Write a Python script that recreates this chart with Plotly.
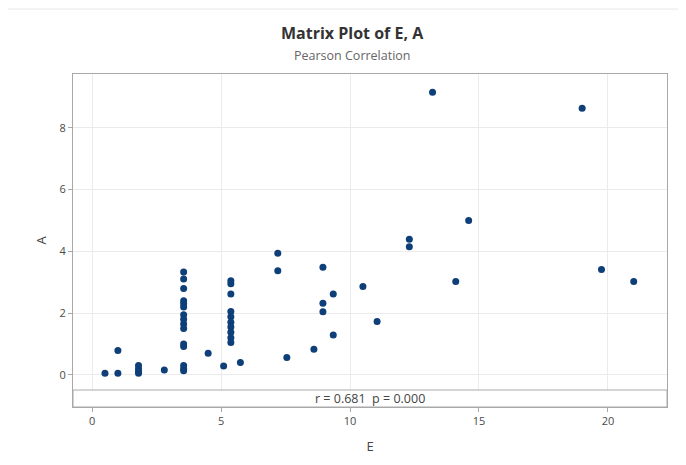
import plotly.graph_objects as go

# Data
E = [0.5, 1.0, 1.0,
     1.8, 1.8, 1.8, 1.8,
     2.8,
     3.55, 3.55, 3.55, 3.55, 3.55, 3.55, 3.55, 3.55, 3.55, 3.55, 3.55, 3.55, 3.55, 3.55, 3.55,
     4.5, 5.1,
     5.38, 5.38, 5.38, 5.38, 5.38, 5.38, 5.38, 5.38, 5.38, 5.38,
     5.75, 7.2, 7.2, 7.55, 8.6, 8.95, 8.95, 8.95, 9.35, 9.35,
     10.5, 11.05, 12.3, 12.3, 13.2, 14.1, 14.6, 19.0, 19.75, 21.0]
A = [0.05, 0.79, 0.05,
     0.05, 0.12, 0.2, 0.3,
     0.16,
     3.33, 3.1, 2.8, 2.4, 2.3, 2.2, 1.95, 1.8, 1.65, 1.5, 1.0, 0.92, 0.3, 0.2, 0.13,
     0.70, 0.29,
     3.05, 2.95, 2.62, 2.05, 1.88, 1.7, 1.55, 1.38, 1.2, 1.05,
     0.40, 3.94, 3.37, 0.56, 0.83, 3.48, 2.32, 2.04, 2.62, 1.29,
     2.86, 1.73, 4.39, 4.15, 9.15, 3.02, 5.0, 8.63, 3.41, 3.02]

x_ticks = [0, 5, 10, 15, 20]
y_ticks = [0, 2, 4, 6, 8]
stat_text = "r = 0.681  p = 0.000"

FONT = "Open Sans"
GRID = "#ebebeb"
FRAME = "#a8a8a8"

fig = go.Figure()
fig.add_trace(go.Scatter(
    x=E, y=A, mode="markers",
    marker=dict(color="#0e3f78", size=7, line=dict(width=0)),
    hoverinfo="x+y", showlegend=False,
))

x_range = [-0.74, 22.29]
y_range = [-1.04, 9.74]
stat_top = -0.49

fig.update_layout(
    width=678, height=457,
    margin=dict(l=65, r=19, t=66, b=58),
    paper_bgcolor="white", plot_bgcolor="white",
    font=dict(family=FONT, color="#444"),
    xaxis=dict(
        range=x_range, tickvals=x_ticks, showgrid=True, gridcolor=GRID, gridwidth=1,
        zeroline=False, showline=True, linecolor=FRAME, mirror=True, linewidth=1,
        ticks="outside", ticklen=4, tickcolor=FRAME,
        tickfont=dict(size=11, color="#4a4a4a", family=FONT),
        title=dict(text="E", font=dict(size=13, color="#444", family=FONT), standoff=14),
    ),
    yaxis=dict(
        range=y_range, tickvals=y_ticks, showgrid=True, gridcolor=GRID, gridwidth=1,
        zeroline=False, showline=True, linecolor=FRAME, mirror=True, linewidth=1,
        ticks="outside", ticklen=4, tickcolor=FRAME,
        tickfont=dict(size=11, color="#4a4a4a", family=FONT),
        title=dict(text="A", font=dict(size=13, color="#444", family=FONT), standoff=9),
    ),
    shapes=[
        dict(type="rect", xref="paper", yref="y", x0=0, x1=1, y0=y_range[0], y1=stat_top,
             fillcolor="white", line=dict(color=FRAME, width=1), layer="above"),
        dict(type="line", xref="paper", yref="paper", x0=-0.11, x1=1.032, y0=1.195, y1=1.195,
             line=dict(color="#e6e6e6", width=1)),
    ],
    annotations=[
        dict(text=stat_text, xref="paper", yref="y", x=0.5, y=(y_range[0] + stat_top) / 2,
             showarrow=False, font=dict(size=12.5, color="#444", family=FONT),
             xanchor="center", yanchor="middle"),
        dict(text="<b>Matrix Plot of E, A</b>", xref="paper", yref="paper", x=0.471, y=1.123,
             showarrow=False, font=dict(size=16, color="#333", family=FONT),
             xanchor="center", yanchor="middle"),
        dict(text="Pearson Correlation", xref="paper", yref="paper", x=0.471, y=1.057,
             showarrow=False, font=dict(size=12.5, color="#666", family=FONT),
             xanchor="center", yanchor="middle"),
    ],
)

fig.write_html("out.html")
